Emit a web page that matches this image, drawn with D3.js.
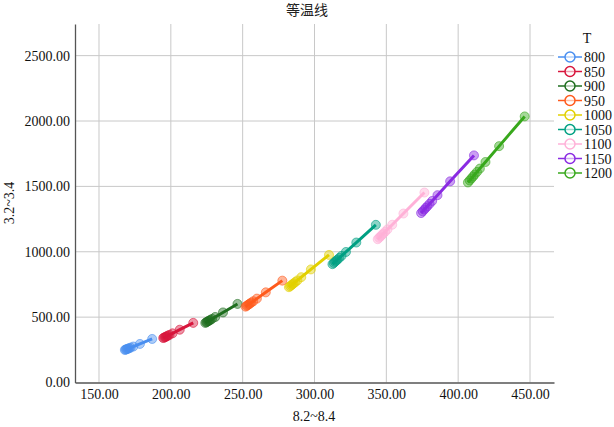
<!DOCTYPE html>
<html><head><meta charset="utf-8">
<script src="https://cdn.jsdelivr.net/npm/d3@7"></script>
<style>body{margin:0;background:#fff;} svg{display:block;}</style>
</head><body>
<svg id="c" width="614" height="427"></svg>
<script>
const seriesNames = ["800","850","900","950","1000","1050","1100","1150","1200"];
const colors = ["#4a8ff0","#d8163c","#1f6e1f","#ff5a1c","#e2d000","#00a083","#ffb1d8","#8a2be2","#38a81c"];
const x800 = [168.0,168.6,169.1,169.7,170.3,171.0,172.0,173.9,178.5,187.0];
const y800 = [249,252,254,257,259,262,267,275,295,333];
const x850 = [194.7,195.3,196.0,196.6,197.2,198.0,199.1,201.2,206.2,215.6];
const y850 = [340,343.5,347.0,350.4,353.9,358.6,364.4,376.0,403.8,456];
const x900 = [224.0,224.7,225.3,226.0,226.7,227.6,228.7,230.9,236.3,246.4];
const y900 = [456,460.4,464.7,469.1,473.4,479.2,486.5,501.0,535.8,601];
const x950 = [252.0,252.8,253.5,254.3,255.1,256.1,257.4,259.9,266.1,277.6];
const y950 = [580,586,591.9,597.9,603.9,611.8,621.8,641.7,689.5,779];
const x1000 = [282.2,283.0,283.9,284.7,285.5,286.7,288.1,290.8,297.5,310.1];
const y1000 = [729,736.4,743.8,751.2,758.6,768.5,780.9,805.6,864.9,976];
const x1050 = [312.5,313.4,314.3,315.2,316.1,317.3,318.8,321.9,329.1,342.7];
const y1050 = [905,914.0,923.1,932.1,941.1,953.2,968.2,998.3,1070.6,1206];
const x1100 = [344.0,345.0,346.0,346.9,347.9,349.2,350.8,354.1,361.9,376.5];
const y1100 = [1096,1106.7,1117.4,1128.1,1138.8,1153.1,1171.0,1206.7,1292.4,1453];
const x1150 = [374.2,375.3,376.4,377.5,378.6,380.1,381.9,385.6,394.4,411.0];
const y1150 = [1296,1309.2,1322.5,1335.7,1348.9,1366.6,1388.6,1432.7,1538.6,1737];
const x1200 = [406.8,408.0,409.2,410.4,411.5,413.1,415.1,419.0,428.5,446.3];
const y1200 = [1530,1545.2,1560.3,1575.5,1590.6,1610.8,1636.1,1686.6,1807.8,2035];
const xTicks = [150,200,250,300,350,400,450];
const yTicks = [0,500,1000,1500,2000,2500];
const titleText = "等温线", xLabel = "8.2~8.4", yLabel = "3.2~3.4", legendTitle = "T";

const xs = [x800,x850,x900,x950,x1000,x1050,x1100,x1150,x1200];
const ys = [y800,y850,y900,y950,y1000,y1050,y1100,y1150,y1200];
const series = seriesNames.map((n,i)=>({name:n,color:colors[i],pts:xs[i].map((v,j)=>({x:v,y:ys[i][j]}))}));

const svg = d3.select("#c");
const L=75,R=554,T=24,B=382.5;
const x = d3.scaleLinear().domain([133.3,466.7]).range([L,R]);
const y = d3.scaleLinear().domain([0,2742]).range([B,T]);
const font = "'Liberation Serif','Times New Roman',serif";

// grid
svg.append("g").selectAll("line").data(xTicks).join("line")
  .attr("x1",d=>x(d)).attr("x2",d=>x(d)).attr("y1",T).attr("y2",B)
  .attr("stroke","#c8c8c8").attr("stroke-width",1);
svg.append("g").selectAll("line").data(yTicks.filter(d=>d>0)).join("line")
  .attr("x1",L).attr("x2",R).attr("y1",d=>y(d)).attr("y2",d=>y(d))
  .attr("stroke","#c8c8c8").attr("stroke-width",1);

// axes
const xa = svg.append("g").attr("transform",`translate(0,${B})`)
  .call(d3.axisBottom(x).tickValues(xTicks).tickFormat(d3.format(".2f")).tickSize(0).tickPadding(7));
const ya = svg.append("g").attr("transform",`translate(${L},0)`)
  .call(d3.axisLeft(y).tickValues(yTicks).tickFormat(d3.format(".2f")).tickSize(0).tickPadding(5));
[xa,ya].forEach(a=>{
  a.select(".domain").attr("stroke","#555").attr("stroke-width",1.3);
  a.selectAll("text").attr("font-family",font).attr("font-size",14).attr("fill","#111");
});

// series
const line = d3.line().x(d=>x(d.x)).y(d=>y(d.y));
series.forEach(s=>{
  svg.append("path").datum(s.pts).attr("d",line).attr("fill","none")
    .attr("stroke",s.color).attr("stroke-width",3);
  svg.append("g").selectAll("circle").data(s.pts).join("circle")
    .attr("cx",d=>x(d.x)).attr("cy",d=>y(d.y)).attr("r",4.5)
    .attr("fill",s.color).attr("fill-opacity",0.45)
    .attr("stroke",s.color).attr("stroke-opacity",0.6).attr("stroke-width",1);
});

// title & labels
svg.append("text").attr("x",307).attr("y",15).attr("text-anchor","middle")
  .attr("font-family","'Noto Sans CJK SC',sans-serif").attr("font-size",14).attr("fill","#222").text(titleText);
svg.append("text").attr("x",314).attr("y",421).attr("text-anchor","middle")
  .attr("font-family",font).attr("font-size",14).attr("fill","#111").text(xLabel);
svg.append("text").attr("transform","translate(14,203) rotate(-90)").attr("text-anchor","middle")
  .attr("font-family",font).attr("font-size",14).attr("fill","#111").text(yLabel);

// legend
const lg = svg.append("g");
lg.append("text").attr("x",587).attr("y",43).attr("text-anchor","middle")
  .attr("font-family",font).attr("font-size",14).attr("fill","#111").text(legendTitle);
const ly = d3.scalePoint().domain(seriesNames).range([57,173]);
series.forEach(s=>{
  const yy = ly(s.name);
  lg.append("line").attr("x1",558).attr("x2",582).attr("y1",yy).attr("y2",yy)
    .attr("stroke",s.color).attr("stroke-width",1.5);
  lg.append("circle").attr("cx",570).attr("cy",yy).attr("r",5)
    .attr("fill","#fff").attr("fill-opacity",0.6).attr("stroke",s.color).attr("stroke-width",1.5);
  lg.append("text").attr("x",584).attr("y",yy+5).attr("font-family",font).attr("font-size",14)
    .attr("fill","#111").text(s.name);
});
</script>
</body></html>
